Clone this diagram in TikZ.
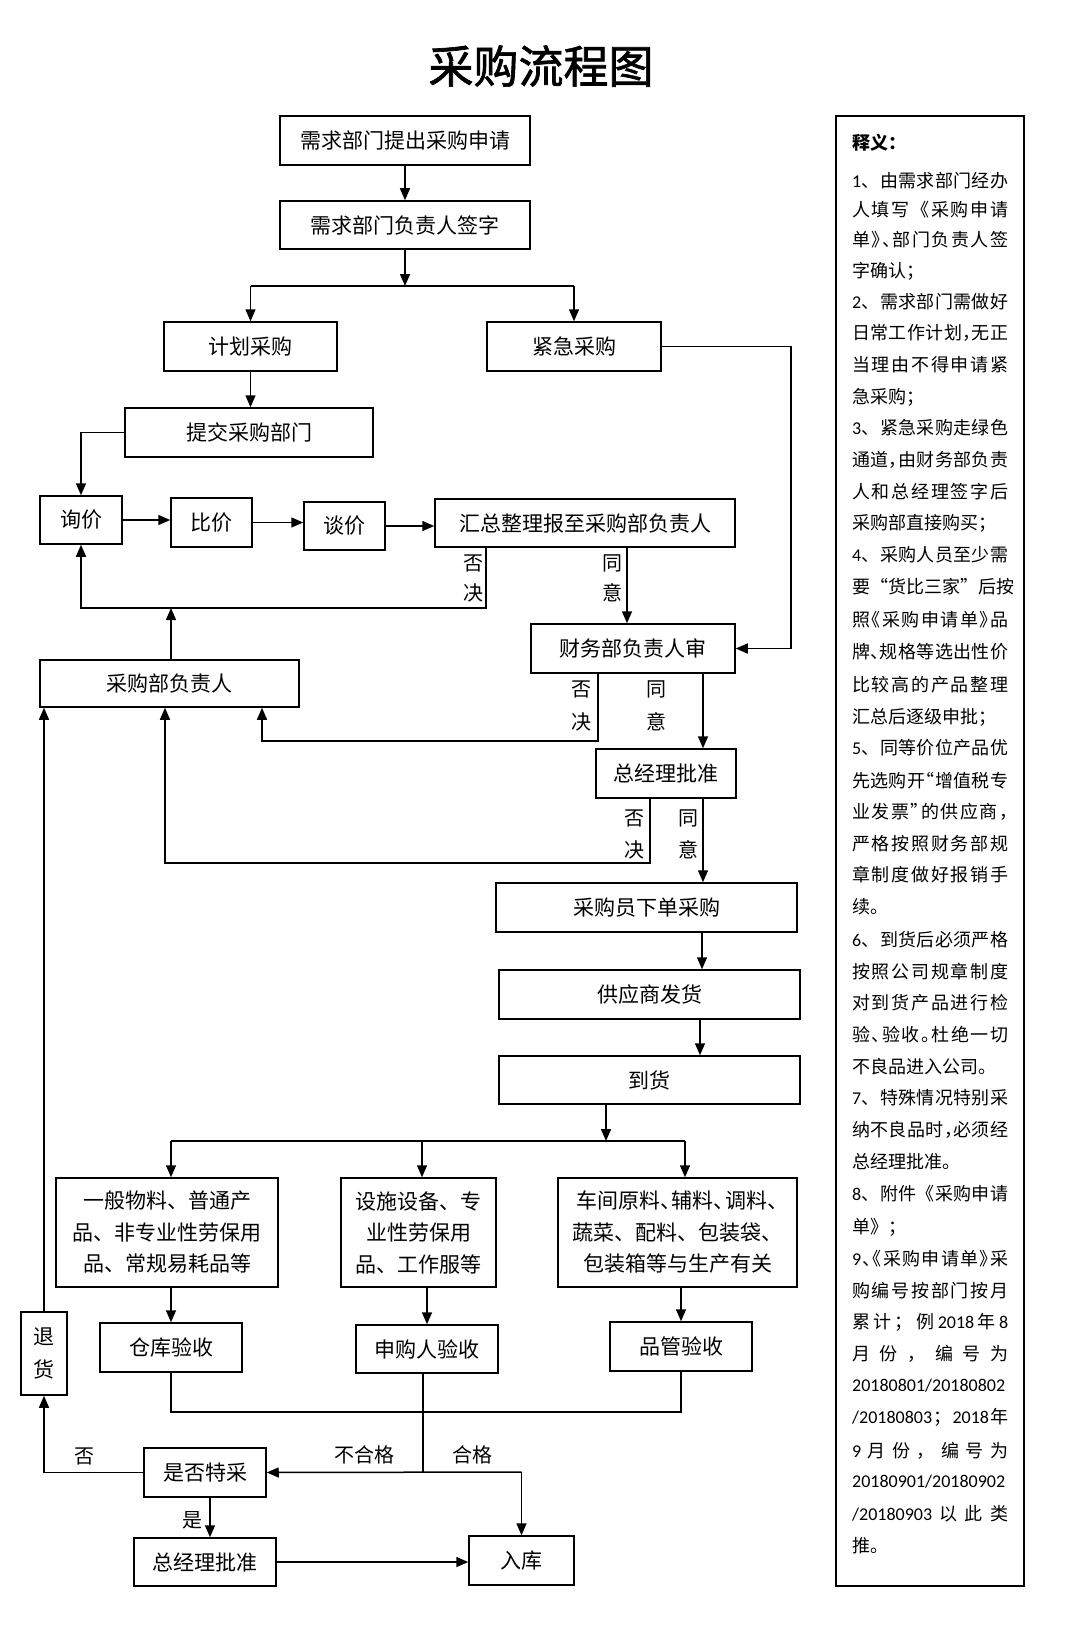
\documentclass[tikz,border=0pt]{standalone}
\usepackage{fontspec}
\setmainfont{Noto Sans CJK SC}
\newfontfamily\lat{Carlito}
\newfontfamily\titlefont[FakeBold=1.5]{Noto Sans CJK SC}
\usetikzlibrary{arrows.meta}
\newcommand\fs[1]{\fontsize{#1}{#1}\selectfont}
\def\jspread#1{\ifx\relax#1\unskip\else{#1}\hfill\expandafter\jspread\fi}
\newcommand\jline[1]{\makebox[156pt][s]{\jspread#1\relax}}
\newcommand\hd{\makebox[0.55em][l]{、}}
\newcommand\pl[1]{\makebox[0.5em][l]{#1}}
\newcommand\pr[1]{\makebox[0.5em][r]{#1}}
\begin{document}
\begin{tikzpicture}[x=1pt,y=-1pt,
  box/.style={draw, line width=1.5pt, inner sep=0pt, font=\fs{21}, align=center},
  ln/.style={line width=1.5pt},
  arr/.style={line width=1.5pt, -{Triangle[length=12pt,width=10pt]}},
  lbl/.style={font=\fs{20}, inner sep=0pt},
  nt/.style={font=\fs{18}, anchor=west, inner sep=0pt}]
\fill[white] (0,0) rectangle (1080,1629);
\useasboundingbox (0,0) rectangle (1080,1629);

\node[font=\fs{45}\titlefont] (title) at (541,66) {采购流程图};

% main boxes
\node[box, minimum width=250pt, minimum height=49pt] (n1) at (405,140.5) {需求部门提出采购申请};
\node[box, minimum width=250pt, minimum height=48pt] (n2) at (405,225) {需求部门负责人签字};
\node[box, minimum width=173pt, minimum height=49pt] (jihua) at (250.5,346.5) {计划采购};
\node[box, minimum width=174pt, minimum height=49pt] (jinji) at (574,346.5) {紧急采购};
\node[box, minimum width=248pt, minimum height=49pt] (tijiao) at (249,432.5) {提交采购部门};
\node[box, minimum width=82pt, minimum height=48pt] (xunjia) at (81,520) {询价};
\node[box, minimum width=81pt, minimum height=49pt] (bijia) at (211.5,522.5) {比价};
\node[box, minimum width=81pt, minimum height=48pt] (tanjia) at (344.5,526) {谈价};
\node[box, minimum width=300pt, minimum height=48pt] (huizong) at (585,523) {汇总整理报至采购部负责人};
\node[box, minimum width=204pt, minimum height=49pt] (caiwu) at (633,648.5) {财务部负责人审};
\node[box, minimum width=259pt, minimum height=47pt] (caigoufz) at (169.5,683.5) {采购部负责人};
\node[box, minimum width=140pt, minimum height=49pt] (zjl) at (666,773.5) {总经理批准};
\node[box, minimum width=301pt, minimum height=49pt] (xiadan) at (646.5,907.5) {采购员下单采购};
\node[box, minimum width=301pt, minimum height=49pt] (fahuo) at (649.5,994.5) {供应商发货};
\node[box, minimum width=301pt, minimum height=48pt] (daohuo) at (649.5,1080) {到货};
\node[box, minimum width=222pt, minimum height=109pt, font=\fontsize{21}{31.5}\selectfont] (catA) at (167,1232.5) {一般物料、普通产\\品、非专业性劳保用\\品、常规易耗品等};
\node[box, minimum width=155pt, minimum height=109pt, font=\fontsize{21}{31.5}\selectfont] (catB) at (418.5,1232.5) {设施设备、专\\业性劳保用\\品、工作服等};
\node[box, minimum width=239pt, minimum height=109pt, font=\fontsize{21}{31.5}\selectfont] (catC) at (677.5,1232.5) {车间原料\hd 辅料\hd 调料\hd\\蔬菜、配料、包装袋、\\包装箱等与生产有关};
\node[box, minimum width=142pt, minimum height=49pt] (cangku) at (171,1347.5) {仓库验收};
\node[box, minimum width=142pt, minimum height=48pt] (shengou) at (427,1349) {申购人验收};
\node[box, minimum width=142pt, minimum height=49pt] (pinguan) at (681,1346.5) {品管验收};
\node[box, minimum width=46pt, minimum height=83pt, font=\fontsize{21}{33}\selectfont] (tuihuo) at (44,1353.5) {退\\货};
\node[box, minimum width=122pt, minimum height=49pt] (shifou) at (205,1472.5) {是否特采};
\node[box, minimum width=142pt, minimum height=48pt] (zjl2) at (205,1562) {总经理批准};
\node[box, minimum width=105pt, minimum height=49pt] (ruku) at (521.5,1560.5) {入库};

% connectors top
\draw[arr] (n1) -- (n2);
\coordinate (j1) at (405,286);
\draw[arr] (n2) -- (j1);
\draw[ln] (j1 -| jihua.north) -- (j1 -| jinji.north);
\draw[arr] (j1 -| jihua.north) -- (jihua.north);
\draw[arr] (j1 -| jinji.north) -- (jinji.north);
\draw[arr] (jihua.south) -- (jihua.south |- tijiao.north);
\draw[arr] (tijiao.west) -| (xunjia.north);
\draw[arr] (xunjia.east) -- (xunjia.east -| bijia.west);
\draw[arr] (bijia.east) -- (bijia.east -| tanjia.west);
\draw[arr] (tanjia.east) -- (tanjia.east -| huizong.west);
% reject 1
\draw[arr] (huizong.south -| 486,0) |- (xunjia.south |- 0,608) -- (xunjia.south);
\draw[arr] (caigoufz.north -| 171,0) -- (171,608);
% agree 1
\draw[arr] (huizong.south -| 627,0) -- (caiwu.north -| 627,0);
% urgent
\draw[arr] (jinji.east) -- (jinji.east -| 791,0) |- (caiwu.east);
% finance
\draw[arr] (caiwu.south -| 598,0) |- (262,741) -- (caigoufz.south -| 262,0);
\draw[arr] (caiwu.south -| 703,0) -- (zjl.north -| 703,0);
% general manager
\draw[arr] (zjl.south -| 650,0) |- (165,863) -- (caigoufz.south -| 165,0);
\draw[arr] (zjl.south -| 703,0) -- (xiadan.north -| 703,0);
\draw[arr] (xiadan.south -| 702,0) -- (fahuo.north -| 702,0);
\draw[arr] (fahuo.south -| 700,0) -- (daohuo.north -| 700,0);
\coordinate (j2) at (606,1141);
\draw[arr] (daohuo.south -| 606,0) -- (j2);
\draw[ln] (j2 -| 171,0) -- (j2 -| 685,0);
\draw[arr] (j2 -| 171,0) -- (catA.north -| 171,0);
\draw[arr] (j2 -| 422,0) -- (catB.north -| 422,0);
\draw[arr] (j2 -| 685,0) -- (catC.north -| 685,0);
\draw[arr] (catA.south -| 171,0) -- (cangku.north -| 171,0);
\draw[arr] (catB.south -| 427,0) -- (shengou.north -| 427,0);
\draw[arr] (catC.south -| 681,0) -- (pinguan.north -| 681,0);
\draw[ln] (cangku.south) -- (cangku.south |- 0,1412) -| (pinguan.south);
\coordinate (j3) at (521.5,1472);
\draw[ln] (shengou.south -| 423,0) -- (j3 -| 423,0);
\draw[arr] (j3) -- (shifou.east);
\draw[arr] (j3) -- (ruku.north);
\draw[arr] (shifou.west) -| (tuihuo.south);
\draw[arr] (tuihuo.north) -- (tuihuo.north |- caigoufz.south);
\draw[arr] (shifou.south -| 210,0) -- (zjl2.north -| 210,0);
\draw[arr] (zjl2.east) -- (zjl2.east -| ruku.west);

% labels
\node[lbl] (f1a) at (473,563) {否}; \node[lbl] (f1b) at (473,593) {决};
\node[lbl] (t1a) at (612,563) {同}; \node[lbl] (t1b) at (612,593) {意};
\node[lbl] (f2a) at (581,689) {否}; \node[lbl] (f2b) at (581,722) {决};
\node[lbl] (t2a) at (656,689) {同}; \node[lbl] (t2b) at (656,722) {意};
\node[lbl] (f3a) at (634,818) {否}; \node[lbl] (f3b) at (634,850) {决};
\node[lbl] (t3a) at (688,818) {同}; \node[lbl] (t3b) at (688,850) {意};
\node[lbl] (fou) at (84,1456) {否};
\node[lbl] (shi) at (192,1520) {是};
\node[lbl] (bhg) at (364,1455) {不合格};
\node[lbl] (hg) at (472,1455) {合格};

% notes
\node[draw, line width=1.5pt, minimum width=188pt, minimum height=1470pt, inner sep=0pt] (notes) at (930,851) {};
\node[nt, font=\fs{18}\bfseries] (l0) at (852,143) {释义：};
\node[nt] (l1) at (852,181) {\jline{{\lat 1}、由需求部门经办}};
\node[nt] (l2) at (852,210) {\jline{人填写《采购申请}};
\node[nt] (l3) at (852,240) {\jline{单{\pl{》}}{\pl{、}}部门负责人签}};
\node[nt] (l4) at (852,271) {字确认；};
\node[nt] (l5) at (852,302) {\jline{{\lat 2}、需求部门需做好}};
\node[nt] (l6) at (852,333) {\jline{日常工作计划{\pl{，}}无正}};
\node[nt] (l7) at (852,365) {\jline{当理由不得申请紧}};
\node[nt] (l8) at (852,397) {急采购；};
\node[nt] (l9) at (852,428) {\jline{{\lat 3}、紧急采购走绿色}};
\node[nt] (l10) at (852,460) {\jline{通道{\pl{，}}由财务部负责}};
\node[nt] (l11) at (852,492) {\jline{人和总经理签字后}};
\node[nt] (l12) at (852,523) {采购部直接购买；};
\node[nt] (l13) at (852,555) {\jline{{\lat 4}、采购人员至少需}};
\node[nt] (l14) at (852,587) {\jline{要“货比三家”后按}};
\node[nt] (l15) at (852,620) {\jline{照{\pr{《}}采购申请单{\pl{》}}品}};
\node[nt] (l16) at (852,652) {\jline{牌{\pl{、}}规格等选出性价}};
\node[nt] (l17) at (852,685) {\jline{比较高的产品整理}};
\node[nt] (l18) at (852,717) {汇总后逐级申批；};
\node[nt] (l19) at (852,748) {\jline{{\lat 5}、同等价位产品优}};
\node[nt] (l20) at (852,781) {\jline{先选购开{\pr{“}}增值税专}};
\node[nt] (l21) at (852,812) {\jline{业发票{\pl{”}}的供应商{\pl{，}}}};
\node[nt] (l22) at (852,844) {\jline{严格按照财务部规}};
\node[nt] (l23) at (852,875) {\jline{章制度做好报销手}};
\node[nt] (l24) at (852,907) {续。};
\node[nt] (l25) at (852,940) {\jline{{\lat 6}、到货后必须严格}};
\node[nt] (l26) at (852,972) {\jline{按照公司规章制度}};
\node[nt] (l27) at (852,1003) {\jline{对到货产品进行检}};
\node[nt] (l28) at (852,1035) {\jline{验{\pl{、}}验收{\pl{。}}杜绝一切}};
\node[nt] (l29) at (852,1067) {不良品进入公司。};
\node[nt] (l30) at (852,1098) {\jline{{\lat 7}、特殊情况特别采}};
\node[nt] (l31) at (852,1130) {\jline{纳不良品时{\pl{，}}必须经}};
\node[nt] (l32) at (852,1162) {总经理批准。};
\node[nt] (l33) at (852,1194) {\jline{{\lat 8}、附件《采购申请}};
\node[nt] (l34) at (852,1227) {单》；};
\node[nt] (l35) at (852,1259) {\jline{{\lat 9}{\pl{、}}{\pr{《}}采购申请单{\pl{》}}采}};
\node[nt] (l36) at (852,1291) {\jline{购编号按部门按月}};
\node[nt] (l37) at (852,1322) {\jline{累计；例{\lat 2018}年{\lat 8}}};
\node[nt] (l38) at (852,1354) {\jline{月份，编号为}};
\node[nt] (l39) at (852,1386) {\lat 20180801/20180802};
\node[nt] (l40) at (852,1417) {\jline{{\lat /20180803}；{\lat 2018}年}};
\node[nt] (l41) at (852,1451) {\jline{{\lat 9}月份，编号为}};
\node[nt] (l42) at (852,1482) {\lat 20180901/20180902};
\node[nt] (l43) at (852,1514) {\jline{{\lat /20180903}以此类}};
\node[nt] (l44) at (852,1546) {推。};
\end{tikzpicture}
\end{document}
